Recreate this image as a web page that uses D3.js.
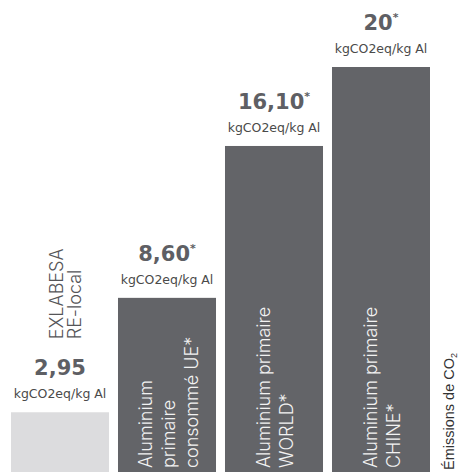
<!DOCTYPE html>
<html>
<head>
<meta charset="utf-8">
<script src="https://cdn.jsdelivr.net/npm/d3@7"></script>
<style>
  html, body { margin: 0; padding: 0; background: #fff; }
  svg { display: block; }
</style>
</head>
<body>
<div id="chart"></div>
<script>
// ---- data ----
const categories = ["EXLABESA", "UE", "WORLD", "CHINE"];
const values = [2.95, 8.60, 16.10, 20];
const valueLabels = ["2,95", "8,60", "16,10", "20"];
const starred = [false, true, true, true];
const unitLabel = "kgCO2eq/kg Al";
const insideLines = [
  [],
  ["Aluminium", "primaire", "consommé UE*"],
  ["Aluminium primaire", "WORLD*"],
  ["Aluminium primaire", "CHINE*"]
];
const outsideLines = [["EXLABESA", "RE-local"], [], [], []];
const axisTitle = "Émissions de CO";
const axisTitleSub = "2";

// ---- layout ----
const W = 459, H = 472;
const svg = d3.select("#chart").append("svg").attr("width", W).attr("height", H);

const x = d3.scaleBand().domain(categories).range([11, 430]).paddingInner(0.084).paddingOuter(0);
const y = d3.scaleLinear().domain([0, 20]).range([472, 67]);

const barColor = (d, i) => i === 0 ? "#dcdcde" : "#636468";

const g = svg.append("g");

// bars
g.selectAll("rect.bar").data(categories).join("rect")
  .attr("class", "bar")
  .attr("x", d => x(d))
  .attr("y", (d, i) => y(values[i]))
  .attr("width", x.bandwidth())
  .attr("height", (d, i) => y(0) - y(values[i]))
  .attr("fill", barColor);

// value labels
const vl = g.selectAll("text.val").data(categories).join("text")
  .attr("class", "val")
  .attr("x", d => x(d) + x.bandwidth() / 2)
  .attr("y", (d, i) => y(values[i]) - 37)
  .attr("text-anchor", "middle")
  .attr("font-family", "DejaVu Sans")
  .attr("font-weight", "bold")
  .attr("font-size", 21)
  .attr("fill", "#5e5f64");
vl.append("tspan").text((d, i) => valueLabels[i]);
vl.filter((d, i) => starred[i]).append("tspan")
  .attr("font-size", 11)
  .attr("dy", -9)
  .text("*");

// unit labels
g.selectAll("text.unit").data(categories).join("text")
  .attr("class", "unit")
  .attr("x", d => x(d) + x.bandwidth() / 2)
  .attr("y", (d, i) => y(values[i]) - 14)
  .attr("text-anchor", "middle")
  .attr("font-family", "DejaVu Sans")
  .attr("font-size", 12.5)
  .attr("fill", "#4a4a4a")
  .text(unitLabel);

// inside rotated labels
const lineGap = 23;
categories.forEach((c, i) => {
  const lines = insideLines[i];
  if (!lines.length) return;
  const cx = x(c) + x.bandwidth() / 2;
  const n = lines.length;
  lines.forEach((t, k) => {
    const bx = cx + (k - (n - 1) / 2) * lineGap + 8;
    g.append("text")
      .attr("transform", `translate(${bx},468) rotate(-90)`)
      .attr("font-family", "Inter")
      .attr("font-weight", 300)
      .attr("font-size", 18)
      .attr("fill", "#f2f2f2")
      .text(t);
  });
});

// outside rotated labels (above value)
categories.forEach((c, i) => {
  const lines = outsideLines[i];
  if (!lines.length) return;
  const x0 = x(c) + 52;
  const yStart = y(values[i]) - 73;
  lines.forEach((t, k) => {
    g.append("text")
      .attr("transform", `translate(${x0 + k * 18},${yStart}) rotate(-90)`)
      .attr("font-family", "Inter")
      .attr("font-weight", 300)
      .attr("font-size", 18)
      .attr("fill", "#555558")
      .text(t);
  });
});

// axis title on the right
const at = svg.append("text")
  .attr("transform", "translate(454,470) rotate(-90)")
  .attr("font-family", "Liberation Sans")
  .attr("font-size", 14.5)
  .attr("fill", "#333")
  .text(axisTitle);
at.append("tspan").attr("font-size", 9).attr("dy", 3).text(axisTitleSub);
</script>
</body>
</html>
